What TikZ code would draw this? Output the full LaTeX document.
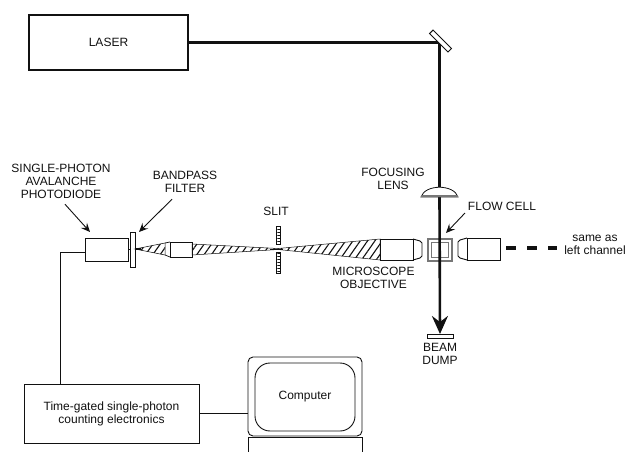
\documentclass[tikz,border=0pt]{standalone}
\usepackage{fontspec}
\setmainfont{Liberation Sans}
\usetikzlibrary{arrows.meta,calc,patterns.meta}
\definecolor{SetupInk}{HTML}{111111}
\definecolor{SetupGrey}{HTML}{777777}
\begin{document}
\begin{tikzpicture}[
    x=1pt,
    y=-1pt,
    font=\fontsize{12}{13}\selectfont,
    color=SetupInk,
    part/.style={draw=SetupInk, line width=0.9pt, fill=white, inner sep=0pt, outer sep=0pt, align=center},
    tag/.style={inner sep=0pt, outer sep=0pt, align=center},
    ghost/.style={inner sep=0pt, outer sep=0pt},
    wire/.style={line width=1pt},
    excite/.style={line width=2.6pt},
    pointer/.style={line width=0.9pt, -{Stealth[length=9pt,width=8pt,inset=3.5pt]}},
    hatched/.style={draw=SetupInk, line width=0.5pt, pattern={Lines[angle=55,distance=6pt,line width=1.1pt]}, pattern color=SetupInk},
    jaw/.style={draw=SetupInk, line width=0.8pt, pattern={Lines[angle=0,distance=3pt,line width=1pt]}, pattern color=SetupInk}
  ]
    \useasboundingbox (0,0) rectangle (627,452);

    \node[part, line width=1.6pt, minimum width=159pt, minimum height=55pt] (laser) at (108.5,42.5) {LASER};
    \coordinate (bend) at (439.5,42.5);
    \node[ghost, minimum width=37pt, minimum height=10pt] (lens) at (439.5,192) {};
    \node[part, minimum width=26pt, minimum height=4pt] (dump) at (440,336) {};

    \node[part, minimum width=43pt, minimum height=23pt] (apd) at (106.5,249.5) {};
    \node[part, minimum width=5pt, minimum height=35pt] (filter) at (132.5,249.5) {};
    \node[part, minimum width=22pt, minimum height=15pt] (relay) at (181,249.5) {};
    \node[ghost, minimum width=4pt, minimum height=47pt] (slit) at (278,249.5) {};
    \node[part, minimum width=33pt, minimum height=21pt] (objleft) at (396.5,249.5) {};
    \node[part, minimum width=33pt, minimum height=22pt] (objright) at (483.5,249) {};
    \node[part, draw=SetupGrey, line width=1.2pt, minimum width=24pt, minimum height=22pt] (cell) at (440,250) {};
    \node[part, draw=SetupGrey, line width=1.2pt, minimum width=17pt, minimum height=15pt] (cellin) at (440,250) {};
    \coordinate (leftend) at (506,248);
    \coordinate (rightend) at (557,248);

    \node[part, minimum width=175pt, minimum height=59pt] (tcspc) at (111.5,413.5) {Time-gated single-photon\\counting electronics};
    \node[part, rounded corners=5pt, minimum width=114pt, minimum height=79pt] (computer) at (305,396.5) {};
    \node[part, rounded corners=15pt, minimum width=100pt, minimum height=68pt] (screen) at (305,397) {Computer};

    \node[tag] (apdlabel) at (61,181) {SINGLE-PHOTON\\AVALANCHE\\PHOTODIODE};
    \node[tag] (filterlabel) at (185,181.5) {BANDPASS\\FILTER};
    \node[tag] (slitlabel) at (276,211) {SLIT};
    \node[tag] (lenslabel) at (393,178.5) {FOCUSING\\LENS};
    \node[tag] (celllabel) at (502,206) {FLOW CELL};
    \node[tag] (objlabel) at (373.5,278) {MICROSCOPE\\OBJECTIVE};
    \node[tag] (dumplabel) at (440,353.5) {BEAM\\DUMP};
    \node[tag] (samelabel) at (595,245) {same as\\left channel};

    % collected light
    \draw[hatched] (filter.east |- 0,249) -- (165,243) -- (165,255) -- cycle;
    \draw[line width=1.4pt] (filter.east |- 0,249) -- ++(6,0);
    \draw[line width=0.7pt] (165,243) -- (relay.north west) (165,255) -- (relay.south west);
    \draw[hatched] (relay.east |- 0,244) -- (slit.center |- 0,248.5) -- (slit.center |- 0,249.5) -- (relay.east |- 0,255) -- cycle;
    \draw[hatched] (slit.center |- 0,248.5) -- (objleft.north west) -- (objleft.south west) -- (slit.center |- 0,249.5) -- cycle;
    \draw[line width=1.6pt] ([xshift=-8pt]slit.center) -- ([xshift=5pt]slit.center);

    % slit jaws
    \draw[jaw] (slit.north west) rectangle ([yshift=-18pt]slit.north east);
    \draw[jaw] (slit.south west) rectangle ([yshift=21pt]slit.south east);

    % objective caps
    \draw[line width=0.9pt] (objleft.north east) -- ++(7,2) -- ++(2,2) -- ++(0,13) -- ++(-2,2) -- (objleft.south east);
    \draw[line width=0.9pt] (objright.north west) -- ++(-7,2) -- ++(-2,2) -- ++(0,14) -- ++(2,2) -- (objright.south west);

    \draw[excite] (laser.east) -- (bend) -- (lens.north);
    \draw[excite, -{Stealth[length=18pt,width=16pt,inset=6pt]}] (lens.south) -- (dump.north);
    \node[part, rotate=-45, minimum width=26pt, minimum height=5pt] (mirror) at (440.5,41) {};

    % lens
    \draw[line width=0.8pt, fill=white] (lens.south west) .. controls ([shift={(4,-13)}]lens.south west) and ([shift={(-4,-13)}]lens.south east) .. (lens.south east) -- cycle;
    \fill[SetupGrey] (lens.south west) rectangle ([yshift=2.5pt]lens.south east);

    \draw[wire] (apd.east) -- (filter.west);
    \draw[wire] ([yshift=-2.5pt]apd.west) -| ([xshift=-51.5pt]tcspc.north);
    \draw[wire] (tcspc.east) -- (tcspc.east -| computer.west);
    \draw[line width=0.9pt] (computer.south west |- 0,452) -- (computer.south west |- 0,437) -- (computer.south east |- 0,437) -- (computer.south east |- 0,452);

    \draw[line width=4pt, dash pattern=on 10pt off 11pt] (leftend) -- (rightend);

    \draw[pointer] ([shift={(4,6)}]apdlabel.south) -- ([shift={(5,-6)}]apd.north west);
    \draw[pointer] ([shift={(-13,7)}]filterlabel.south) -- ([shift={(4,0)}]filter.north east);
    \draw[pointer] ([shift={(-3,7)}]celllabel.west) -- ([shift={(6,-6)}]cell.north);
  \end{tikzpicture}
\end{document}
